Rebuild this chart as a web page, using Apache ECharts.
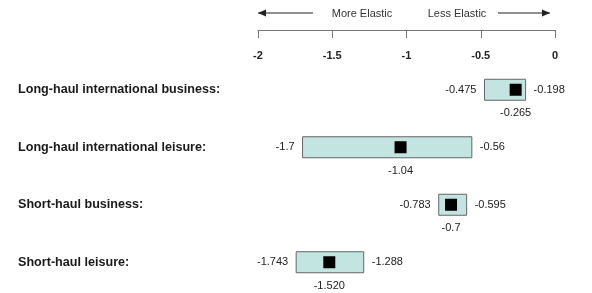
<!DOCTYPE html>
<html>
<head>
<meta charset="utf-8">
<script src="https://cdn.jsdelivr.net/npm/echarts@6/dist/echarts.min.js"></script>
<style>html,body{margin:0;padding:0;background:#fff}#c{width:592px;height:293px}</style>
</head>
<body>
<div id="c"></div>
<script>
const categories = ['Long-haul international business:', 'Long-haul international leisure:', 'Short-haul business:', 'Short-haul leisure:'];
const lowValues = [-0.475, -1.7, -0.783, -1.743];
const highValues = [-0.198, -0.56, -0.595, -1.288];
const midValues = [-0.265, -1.04, -0.7, -1.52];
const lowLabels = ['-0.475', '-1.7', '-0.783', '-1.743'];
const highLabels = ['-0.198', '-0.56', '-0.595', '-1.288'];
const midLabels = ['-0.265', '-1.04', '-0.7', '-1.520'];
const axisMin = -2, axisMax = 0, axisStep = 0.5;
const leftNote = 'More Elastic';
const rightNote = 'Less Elastic';

const FONT = '"Liberation Sans", Arial, sans-serif';
const chart = echarts.init(document.getElementById('c'), null, {renderer: 'canvas'});

const boxData = categories.map((c, i) => [i, lowValues[i], highValues[i]]);
const midData = categories.map((c, i) => [midValues[i], i]);

function arrow(x1, x2, y, headAtLeft) {
  const hx = headAtLeft ? x1 : x2;
  const d = headAtLeft ? 1 : -1;
  return [
    {type: 'line', shape: {x1: x1, y1: y, x2: x2, y2: y}, style: {stroke: '#222', lineWidth: 1.2}},
    {type: 'polygon', shape: {points: [[hx, y], [hx + d * 8, y - 3.5], [hx + d * 8, y + 3.5]]}, style: {fill: '#222'}}
  ];
}

chart.setOption({
  animation: false,
  textStyle: {fontFamily: FONT},
  grid: [
    {left: 258, right: 37, top: 29, height: 1},
    {left: 258, right: 37, top: 61, bottom: 2}
  ],
  xAxis: [
    {
      gridIndex: 0, type: 'value', position: 'top', min: axisMin, max: axisMax, interval: axisStep,
      axisLine: {show: true, lineStyle: {color: '#777', width: 1}},
      axisTick: {show: true, inside: true, length: 8, lineStyle: {color: '#777'}},
      axisLabel: {inside: true, margin: 21, color: '#222', fontWeight: 'bold', fontSize: 11, fontFamily: FONT},
      splitLine: {show: false}
    },
    {
      gridIndex: 1, type: 'value', min: axisMin, max: axisMax, show: false, splitLine: {show: false}
    }
  ],
  yAxis: [
    {gridIndex: 0, type: 'value', show: false},
    {
      gridIndex: 1, type: 'category', data: categories, inverse: true,
      axisLine: {show: false}, axisTick: {show: false}, splitLine: {show: false},
      axisLabel: {align: 'left', margin: 240, color: '#1a1a1a', fontWeight: 'bold', fontSize: 12.6, fontFamily: FONT}
    }
  ],
  graphic: [
    ...arrow(258, 313, 13, true),
    ...arrow(498, 550, 13, false),
    {type: 'text', x: 362, y: 14, style: {text: leftNote, align: 'center', verticalAlign: 'middle', font: '11px ' + FONT, fill: '#333'}},
    {type: 'text', x: 457, y: 14, style: {text: rightNote, align: 'center', verticalAlign: 'middle', font: '11px ' + FONT, fill: '#333'}}
  ],
  series: [
    {
      type: 'custom', xAxisIndex: 1, yAxisIndex: 1, data: boxData,
      encode: {x: [1, 2], y: 0},
      renderItem: function (params, api) {
        const i = api.value(0);
        const lo = api.coord([api.value(1), i]);
        const hi = api.coord([api.value(2), i]);
        const h = 21;
        const font = '11px ' + FONT;
        return {
          type: 'group',
          children: [
            {type: 'rect', shape: {x: lo[0], y: lo[1] - h / 2, width: hi[0] - lo[0], height: h},
             style: {fill: '#c3e5e1', stroke: '#666', lineWidth: 1}},
            {type: 'text', style: {text: lowLabels[i], x: lo[0] - 8, y: lo[1], align: 'right', verticalAlign: 'middle', font: font, fill: '#222'}},
            {type: 'text', style: {text: highLabels[i], x: hi[0] + 8, y: hi[1], align: 'left', verticalAlign: 'middle', font: font, fill: '#222'}}
          ]
        };
      }
    },
    {
      type: 'scatter', xAxisIndex: 1, yAxisIndex: 1, data: midData,
      symbol: 'rect', symbolSize: 12, itemStyle: {color: '#000', opacity: 1},
      label: {show: true, position: 'bottom', distance: 12, formatter: p => midLabels[p.dataIndex], color: '#222', fontSize: 11, fontFamily: FONT}
    }
  ]
});
</script>
</body>
</html>
